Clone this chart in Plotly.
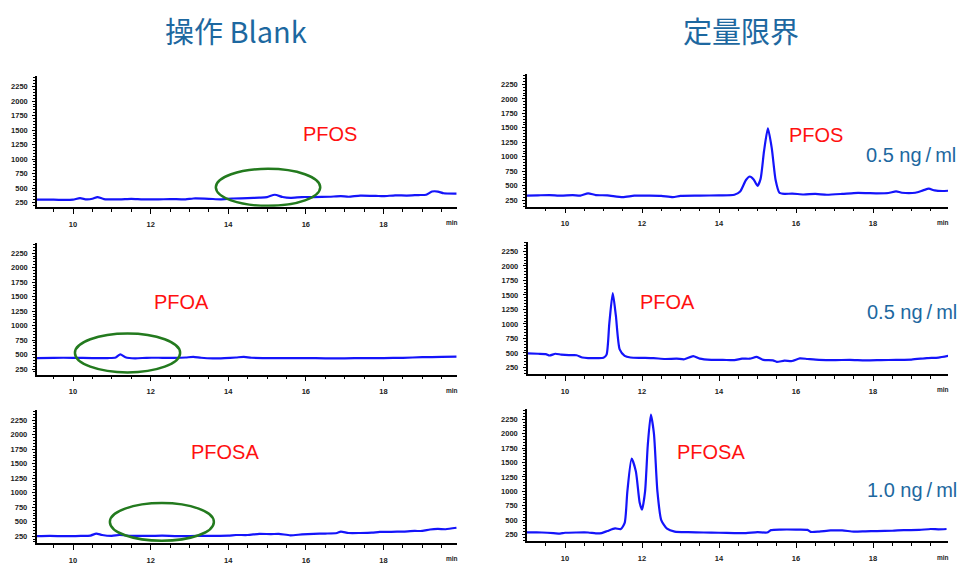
import plotly.graph_objects as go

W, H = 961, 565

# ---- chromatogram traces: retention time (min) and intensity ----
pfos_blank_t = [9.07, 9.5, 9.8, 10.0, 10.18, 10.35, 10.5, 10.63, 10.8, 11.2, 11.5, 11.8, 12.2, 12.5,
                12.9, 13.1, 13.5, 13.8, 14.1, 14.5, 14.8, 15.0, 15.2, 15.4, 15.6, 15.9, 16.2, 16.6,
                16.9, 17.1, 17.4, 17.8, 18.0, 18.3, 18.6, 18.9, 19.1, 19.25, 19.4, 19.55, 19.88]
pfos_blank_v = [300, 300, 295, 300, 325, 305, 315, 345, 310, 305, 315, 305, 305, 310,
                305, 320, 315, 305, 320, 325, 335, 345, 385, 345, 330, 345, 345, 350,
                360, 350, 370, 365, 360, 375, 370, 380, 385, 440, 440, 410, 405]

pfoa_blank_t = [9.07, 9.5, 10.0, 10.5, 10.9, 11.1, 11.22, 11.35, 11.6, 11.9, 12.3, 12.6, 12.9, 13.1,
                13.3, 13.6, 13.9, 14.2, 14.4, 14.6, 15.0, 15.5, 16.0, 16.5, 17.0, 17.5, 18.0, 18.5,
                19.0, 19.5, 19.88]
pfoa_blank_v = [440, 445, 445, 440, 440, 450, 505, 455, 435, 445, 445, 445, 450, 460,
                445, 435, 440, 450, 460, 445, 440, 440, 440, 435, 435, 440, 440, 445,
                455, 460, 465]

pfosa_blank_t = [9.07, 9.4, 9.8, 10.2, 10.45, 10.6, 10.75, 11.0, 11.2, 11.5, 12.0, 12.3, 12.7, 13.2,
                 13.6, 14.0, 14.2, 14.5, 14.8, 15.1, 15.3, 15.6, 15.9, 16.2, 16.5, 16.8, 16.9, 17.1,
                 17.4, 17.7, 17.9, 18.2, 18.5, 18.8, 19.0, 19.2, 19.4, 19.6, 19.88]
pfosa_blank_v = [250, 255, 250, 255, 260, 295, 270, 255, 270, 255, 255, 258, 250, 255,
                 255, 258, 270, 270, 290, 285, 290, 265, 280, 290, 295, 305, 330, 305,
                 305, 310, 325, 325, 330, 340, 340, 365, 375, 370, 395]

pfos_loq_t = [9.0, 9.3, 9.6, 9.9, 10.2, 10.4, 10.6, 10.8, 11.1, 11.5, 11.8, 12.2, 12.5, 12.8,
              13.0, 13.5, 14.0, 14.4, 14.55, 14.7, 14.8, 14.9, 15.0, 15.08, 15.17, 15.27, 15.37,
              15.47, 15.57, 15.7, 15.9, 16.2, 16.5, 16.8, 17.2, 17.5, 17.8, 18.1, 18.4, 18.6,
              18.75, 19.1, 19.3, 19.45, 19.6, 19.8, 19.96]
pfos_loq_v = [330, 335, 340, 330, 340, 330, 370, 340, 335, 305, 330, 330, 325, 305,
              325, 330, 335, 345, 400, 600, 660, 610, 500, 620, 1100, 1490, 1150,
              600, 380, 360, 365, 350, 360, 345, 360, 375, 375, 370, 375, 405,
              380, 380, 420, 450, 420, 410, 415]

pfoa_loq_t = [9.03, 9.3, 9.5, 9.6, 9.75, 9.9, 10.1, 10.3, 10.45, 10.6, 10.8, 11.0, 11.08, 11.15,
              11.24, 11.32, 11.42, 11.55, 11.7, 12.0, 12.3, 12.6, 12.9, 13.1, 13.33, 13.5, 13.8,
              14.1, 14.4, 14.6, 14.8, 14.98, 15.15, 15.4, 15.5, 15.7, 15.9, 16.1, 16.3, 16.6,
              17.0, 17.4, 17.8, 18.2, 18.6, 19.0, 19.4, 19.7, 19.96]
pfoa_loq_v = [490, 485, 480, 455, 485, 470, 460, 460, 420, 410, 410, 415, 470, 1000,
              1530, 1150, 560, 450, 420, 415, 410, 395, 400, 390, 445, 400, 380,
              380, 375, 400, 400, 430, 380, 370, 345, 365, 360, 405, 395, 380,
              375, 380, 370, 375, 380, 385, 410, 420, 450]

pfosa_loq_t = [9.0, 9.4, 9.7, 9.87, 10.0, 10.3, 10.6, 10.8, 10.95, 11.1, 11.3, 11.45, 11.55, 11.62,
               11.73, 11.84, 11.94, 12.0, 12.08, 12.15, 12.23, 12.31, 12.4, 12.5, 12.65, 12.85,
               13.2, 13.6, 14.0, 14.4, 14.7, 15.0, 15.25, 15.35, 15.6, 16.0, 16.3, 16.38, 16.6,
               16.9, 17.2, 17.5, 17.8, 18.1, 18.5, 18.8, 19.2, 19.5, 19.7, 19.91]
pfosa_loq_v = [285, 285, 275, 265, 280, 285, 285, 270, 275, 310, 355, 345, 450, 1000,
               1570, 1350, 800, 680, 1000, 1800, 2330, 2000, 1000, 500, 350, 300,
               290, 285, 280, 275, 275, 290, 285, 325, 335, 335, 330, 295, 300,
               320, 320, 300, 305, 310, 315, 325, 330, 345, 340, 345]

compound_names = ["PFOS", "PFOA", "PFOSA"]
concentrations = ["0.5 ng\u2009/\u2009ml", "0.5 ng\u2009/\u2009ml", "1.0 ng\u2009/\u2009ml"]
column_titles = ["操作 Blank", "定量限界"]
y_tick_vals = [250, 500, 750, 1000, 1250, 1500, 1750, 2000, 2250]
x_tick_vals = [10, 12, 14, 16, 18]

series = [
    (pfos_blank_t, pfos_blank_v), (pfos_loq_t, pfos_loq_v),
    (pfoa_blank_t, pfoa_blank_v), (pfoa_loq_t, pfoa_loq_v),
    (pfosa_blank_t, pfosa_blank_v), (pfosa_loq_t, pfosa_loq_v),
]

# ---- panel geometry in page pixels (axis ends, tick anchors) ----
geom = [
    dict(x0=37, x1=457, p10=73, p18=383.5, top=76.7, bot=208.3, p2250=87.3, p250=204.0),
    dict(x0=527, x1=948, p10=565, p18=873, top=75, bot=208, p2250=85, p250=201.7),
    dict(x0=37, x1=457, p10=73, p18=383.5, top=245, bot=377.3, p2250=255, p250=371.7),
    dict(x0=527.5, x1=948, p10=565, p18=873, top=244, bot=376.7, p2250=253.3, p250=370),
    dict(x0=36.5, x1=457, p10=73, p18=383.5, top=413.3, bot=546.7, p2250=423.3, p250=540),
    dict(x0=527, x1=948, p10=565, p18=873, top=411.7, bot=545, p2250=422.3, p250=538.3),
]


def px_x(p):
    return p / W


def px_y(p):
    return 1 - p / H


TRACE_BLUE = "rgb(20,20,250)"
TITLE_BLUE = "#1d68a0"
RED = "#ff1010"
GREEN = "#237a1e"
tick_font = dict(family="Liberation Sans, Arial", size=7.5, color="#222", weight="bold")

fig = go.Figure()
layout = dict(
    width=W, height=H, margin=dict(l=0, r=0, t=0, b=0),
    paper_bgcolor="white", plot_bgcolor="white", showlegend=False,
)

annotations = []
for i, ((t, v), g) in enumerate(zip(series, geom)):
    n = i + 1
    xs = "x" if n == 1 else f"x{n}"
    ys = "y" if n == 1 else f"y{n}"
    fig.add_trace(go.Scatter(
        x=t, y=v, xaxis=xs, yaxis=ys, mode="lines",
        line=dict(color=TRACE_BLUE, width=2.2, shape="spline", smoothing=0.6),
        hoverinfo="skip",
    ))
    xppu = (g["p18"] - g["p10"]) / 8
    xr = [10 - (g["p10"] - g["x0"]) / xppu, 18 + (g["x1"] - g["p18"]) / xppu]
    yppu = (g["p250"] - g["p2250"]) / 2000
    yr = [250 - (g["bot"] - g["p250"]) / yppu, 2250 + (g["p2250"] - g["top"]) / yppu]

    layout["xaxis" if n == 1 else f"xaxis{n}"] = dict(
        domain=[px_x(g["x0"]), px_x(g["x1"])], range=xr, anchor=ys,
        showgrid=False, zeroline=False, showline=True, linecolor="black", linewidth=1.5,
        tickmode="array", tickvals=x_tick_vals, ticks="outside", ticklen=5,
        tickwidth=1.3, tickcolor="black", tickfont=tick_font, ticklabelstandoff=4,
        minor=dict(dtick=0.5, tick0=10, ticks="outside", ticklen=3, tickwidth=1.2,
                   tickcolor="black", showgrid=False),
    )
    layout["yaxis" if n == 1 else f"yaxis{n}"] = dict(
        domain=[px_y(g["bot"]), px_y(g["top"])], range=yr, anchor=xs,
        showgrid=False, zeroline=False, showline=True, linecolor="black", linewidth=1.5,
        tickmode="array", tickvals=y_tick_vals, ticks="outside", ticklen=3,
        tickwidth=1.2, tickcolor="black", tickfont=tick_font, ticklabelstandoff=3,
        minor=dict(dtick=50, tick0=0, ticks="outside", ticklen=2, tickwidth=1,
                   tickcolor="black", showgrid=False),
    )
    # "min" unit label at the right end of each time axis
    annotations.append(dict(
        x=px_x(g["x1"] - 5), y=px_y(g["bot"] + 16), xref="paper", yref="paper",
        text="min", showarrow=False, xanchor="center", yanchor="middle",
        font=dict(family="Liberation Sans, Arial", size=6.5, color="#222222", weight="bold"),
    ))

# column headings
for txt, cx in zip(column_titles, [236, 741]):
    annotations.append(dict(
        x=px_x(cx), y=px_y(30), xref="paper", yref="paper", text=txt, showarrow=False,
        xanchor="center", yanchor="middle",
        font=dict(family="Noto Sans CJK JP", size=29, color=TITLE_BLUE),
    ))

# compound names (left and right columns) and spiked concentrations
name_pos_left = [(330, 135), (181.5, 304), (225, 455)]
name_pos_right = [(816, 136), (667.5, 304), (711, 455)]
conc_pos = [(911, 156), (911.5, 314), (911.5, 493)]
for name, conc, pl, pr, pc in zip(compound_names, concentrations, name_pos_left,
                                  name_pos_right, conc_pos):
    for (cx, cy) in (pl, pr):
        annotations.append(dict(
            x=px_x(cx), y=px_y(cy), xref="paper", yref="paper", text=name, showarrow=False,
            xanchor="center", yanchor="middle",
            font=dict(family="Liberation Sans, Arial", size=20, color=RED),
        ))
    annotations.append(dict(
        x=px_x(pc[0]), y=px_y(pc[1]), xref="paper", yref="paper", text=conc, showarrow=False,
        xanchor="center", yanchor="middle",
        font=dict(family="Liberation Sans, Arial", size=20, color=TITLE_BLUE),
    ))

# ellipses marking where the analyte would elute in the blanks
ellipses = [
    ("x", "y", 13.68, 16.37, 193, 833),
    ("x3", "y3", 10.05, 12.76, 193, 862),
    ("x5", "y5", 10.95, 13.63, 170, 821),
]
shapes = []
for xr_, yr_, a0, a1, b0, b1 in ellipses:
    shapes.append(dict(type="circle", xref=xr_, yref=yr_, x0=a0, x1=a1, y0=b0, y1=b1,
                       line=dict(color=GREEN, width=2.5), layer="above"))

layout["annotations"] = annotations
layout["shapes"] = shapes
fig.update_layout(**layout)

fig.write_html("out.html")
